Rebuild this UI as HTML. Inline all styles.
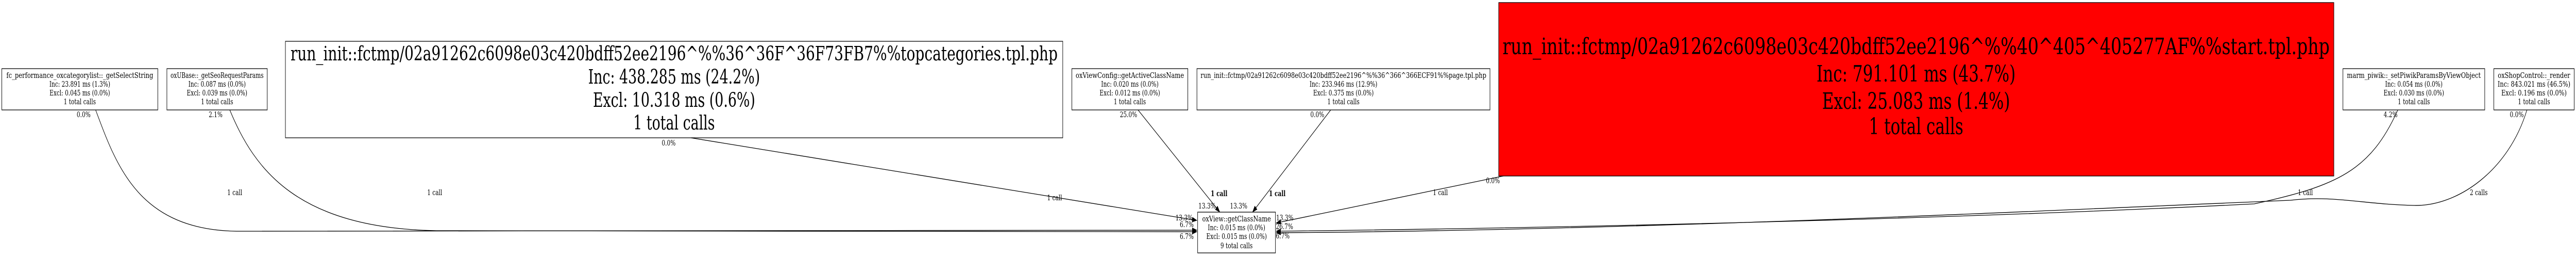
<!DOCTYPE html>
<html><head><meta charset="utf-8">
<style>
html,body{margin:0;padding:0;background:#fff;width:100%;height:100%;overflow:hidden;}
svg{display:block;width:100vw;height:100vh;}
text{font-family:"DejaVu Serif","Liberation Serif",serif;fill:#000;}
</style></head>
<body>
<svg viewBox="0 0 7085 496" preserveAspectRatio="none" xmlns="http://www.w3.org/2000/svg">
<defs>
<marker id="ah" markerWidth="14" markerHeight="10" refX="13" refY="5" orient="auto" markerUnits="userSpaceOnUse">
<path d="M0,0 L14,5 L0,10 z" fill="#000"/>
</marker>
</defs>
<g fill="none" stroke="#000" stroke-width="1.3">
<path d="M263,213 C 320,320 380,445 650,448 L 3292,446" marker-end="url(#ah)"/>
<path d="M632,213 C 700,330 820,442 1200,447 L 3292,449" marker-end="url(#ah)"/>
<path d="M1900,267 L 3292,427" marker-end="url(#ah)"/>
<path d="M3130,213 L 3355,411" marker-end="url(#ah)"/>
<path d="M3660,213 L 3445,411" marker-end="url(#ah)"/>
<path d="M4135,341 L 3510,432" marker-end="url(#ah)"/>
<path d="M6595,213 C 6520,330 6430,360 6200,395 C 5500,420 4500,440 3510,448" marker-end="url(#ah)"/>
<path d="M6950,213 C 6900,330 6760,400 6640,398 C 6500,396 6420,378 6300,388 C 5500,412 4500,446 3510,451" marker-end="url(#ah)"/>
</g>

<g stroke="#000" stroke-width="1.3">
<rect x="5" y="133" width="429" height="80" fill="#fff"/>
<rect x="459" y="133" width="276" height="80" fill="#fff"/>
<rect x="785" y="80" width="2138" height="187" fill="#fff"/>
<rect x="2948" y="133" width="319" height="80" fill="#fff"/>
<rect x="3292" y="133" width="806" height="80" fill="#fff"/>
<rect x="4122" y="5" width="2297" height="336" fill="#ff0000"/>
<rect x="6444" y="133" width="390" height="80" fill="#fff"/>
<rect x="6859" y="133" width="221" height="80" fill="#fff"/>
<rect x="3294" y="411" width="214" height="79" fill="#fff"/>
</g>

<g font-size="15" text-anchor="middle">
<text x="219.5" y="151" textLength="404" lengthAdjust="spacingAndGlyphs">fc_performance_oxcategorylist::_getSelectString</text>
<text x="219.5" y="168">Inc: 23.891 ms (1.3%)</text>
<text x="219.5" y="185">Excl: 0.045 ms (0.0%)</text>
<text x="219.5" y="202">1 total calls</text>

<text x="597" y="151" textLength="256" lengthAdjust="spacingAndGlyphs">oxUBase::_getSeoRequestParams</text>
<text x="597" y="168">Inc: 0.087 ms (0.0%)</text>
<text x="597" y="185">Excl: 0.039 ms (0.0%)</text>
<text x="597" y="202">1 total calls</text>

<text x="3107.5" y="151" textLength="298" lengthAdjust="spacingAndGlyphs">oxViewConfig::getActiveClassName</text>
<text x="3107.5" y="168">Inc: 0.020 ms (0.0%)</text>
<text x="3107.5" y="185">Excl: 0.012 ms (0.0%)</text>
<text x="3107.5" y="202">1 total calls</text>

<text x="3695" y="151" textLength="786" lengthAdjust="spacingAndGlyphs">run_init::fctmp/02a91262c6098e03c420bdff52ee2196^%%36^366^366ECF91%%page.tpl.php</text>
<text x="3695" y="168">Inc: 233.946 ms (12.9%)</text>
<text x="3695" y="185">Excl: 0.375 ms (0.0%)</text>
<text x="3695" y="202">1 total calls</text>

<text x="6639" y="151" textLength="368" lengthAdjust="spacingAndGlyphs">marm_piwik::_setPiwikParamsByViewObject</text>
<text x="6639" y="168">Inc: 0.054 ms (0.0%)</text>
<text x="6639" y="185">Excl: 0.030 ms (0.0%)</text>
<text x="6639" y="202">1 total calls</text>

<text x="6969.5" y="151" textLength="199" lengthAdjust="spacingAndGlyphs">oxShopControl::_render</text>
<text x="6969.5" y="168" textLength="200" lengthAdjust="spacingAndGlyphs">Inc: 843.021 ms (46.5%)</text>
<text x="6969.5" y="185" textLength="180" lengthAdjust="spacingAndGlyphs">Excl: 0.196 ms (0.0%)</text>
<text x="6969.5" y="202">1 total calls</text>

<text x="3401" y="429" textLength="189" lengthAdjust="spacingAndGlyphs">oxView::getClassName</text>
<text x="3401" y="446">Inc: 0.015 ms (0.0%)</text>
<text x="3401" y="463">Excl: 0.015 ms (0.0%)</text>
<text x="3401" y="481">9 total calls</text>
</g>

<g font-size="38" text-anchor="middle">
<text x="1854" y="117" textLength="2110" lengthAdjust="spacingAndGlyphs">run_init::fctmp/02a91262c6098e03c420bdff52ee2196^%%36^36F^36F73FB7%%topcategories.tpl.php</text>
<text x="1854" y="162">Inc: 438.285 ms (24.2%)</text>
<text x="1854" y="207">Excl: 10.318 ms (0.6%)</text>
<text x="1854" y="251">1 total calls</text>
</g>
<g font-size="44" text-anchor="middle">
<text x="5270" y="105" textLength="2275" lengthAdjust="spacingAndGlyphs">run_init::fctmp/02a91262c6098e03c420bdff52ee2196^%%40^405^405277AF%%start.tpl.php</text>
<text x="5270" y="158">Inc: 791.101 ms (43.7%)</text>
<text x="5270" y="211">Excl: 25.083 ms (1.4%)</text>
<text x="5270" y="260">1 total calls</text>
</g>

<g font-size="15">
<text x="211" y="227">0.0%</text>
<text x="574" y="227">2.1%</text>
<text x="1820" y="282">0.0%</text>
<text x="3080" y="227">25.0%</text>
<text x="3604" y="227">0.0%</text>
<text x="4087" y="355">0.0%</text>
<text x="6556" y="227">4.2%</text>
<text x="6903" y="227">0.0%</text>
<text x="3296" y="404">13.3%</text>
<text x="3383" y="404">13.3%</text>
<text x="3233" y="427">13.3%</text>
<text x="3245" y="440">6.7%</text>
<text x="3245" y="463">6.7%</text>
<text x="3510" y="427">13.3%</text>
<text x="3509" y="444">26.7%</text>
<text x="3509" y="462">6.7%</text>
</g>
<g font-size="15">
<text x="625" y="378">1 call</text>
<text x="1175" y="378">1 call</text>
<text x="2880" y="388">1 call</text>
<text x="3330" y="380" font-weight="bold">1 call</text>
<text x="3490" y="380" font-weight="bold">1 call</text>
<text x="3941" y="378">1 call</text>
<text x="6320" y="378">1 call</text>
<text x="6793" y="378">2 calls</text>
</g>
</svg>
</body></html>
